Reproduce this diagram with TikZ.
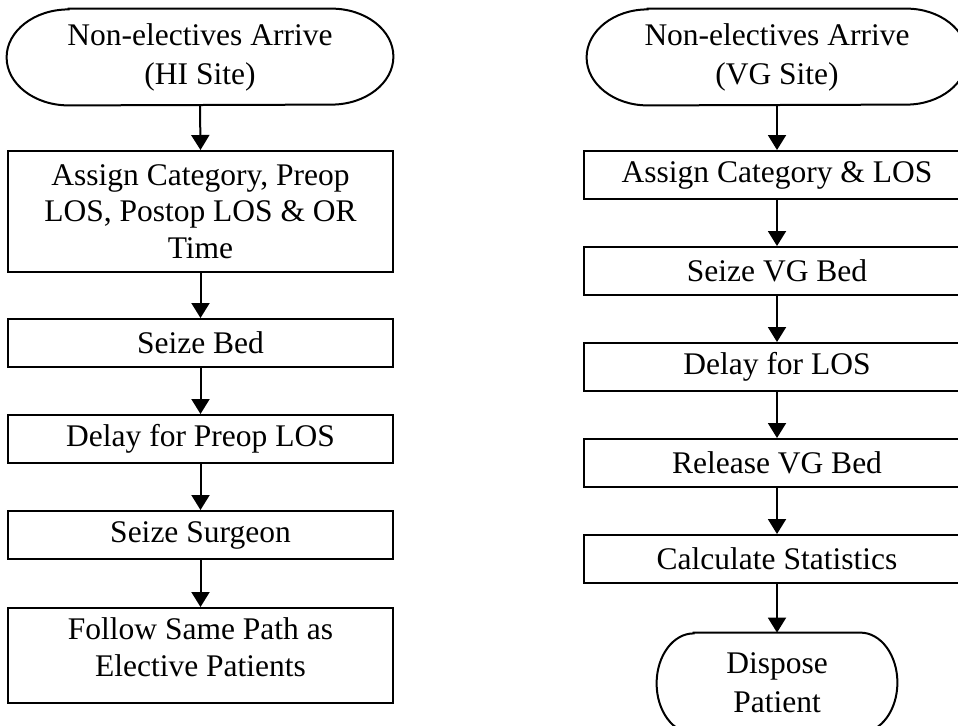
\documentclass[tikz,border=0pt]{standalone}
\usepackage{fontspec}
\setmainfont{Liberation Serif}
\usetikzlibrary{arrows.meta}
% outline of a terminator round a node: node, x radius, y radius
\newcommand{\termshape}[3]{\draw[line width=1pt] ([xshift=#2]#1.north west) -- ([xshift=-#2]#1.north east)
  arc[start angle=90,end angle=-90,x radius=#2,y radius=#3] -- ([xshift=#2]#1.south west)
  arc[start angle=270,end angle=90,x radius=#2,y radius=#3] -- cycle;}

\begin{document}
\begin{tikzpicture}[x=0.5pt,y=-0.5pt,font=\fontsize{15.75}{18.25}\selectfont,
  stepbox/.style={draw,rectangle,line width=1pt,minimum width=192.5pt,minimum height=24pt,inner sep=0pt,align=center},
  termbox/.style={rectangle,inner sep=0pt,align=center,font=\fontsize{15.75}{19.5}\selectfont},
  flow/.style={line width=1pt,-{Triangle[length=7.5pt,width=9pt]}}]
\clip (0,0) rectangle (958,725);

% HI site
\node[termbox,minimum width=193pt,minimum height=48pt] (hiArrive) at (200,57) {Non-electives Arrive\\(HI Site)};
\termshape{hiArrive}{31pt}{24pt}
\node[stepbox,minimum height=60.5pt] (hiAssign) at (200.5,211.5) {Assign Category, Preop\\LOS, Postop LOS \& OR\\Time};
\node[stepbox] (hiBed) at (200.5,343) {Seize Bed};
\node[stepbox] (hiDelay) at (200.5,439) {Delay for Preop LOS};
\node[stepbox] (hiSurgeon) at (200.5,535) {Seize Surgeon};
\node[stepbox,minimum height=47.5pt] (hiFollow) at (200.5,655.5) {Follow Same Path as\\Elective Patients\\[-10pt]\mbox{}};

\path[flow,draw] (hiArrive.south) -- (hiAssign.north);
\path[flow,draw] (hiAssign.south) -- (hiBed.north);
\path[flow,draw] (hiBed.south) -- (hiDelay.north);
\path[flow,draw] (hiDelay.south) -- (hiSurgeon.north);
\path[flow,draw] (hiSurgeon.south) -- (hiFollow.north);

% VG site
\node[termbox,minimum width=190pt,minimum height=48pt] (vgArrive) at (777,57) {Non-electives Arrive\\(VG Site)};
\termshape{vgArrive}{30.5pt}{24pt}
\node[stepbox,minimum width=193pt] (vgAssign) at (777,175) {Assign Category \& LOS};
\node[stepbox,minimum width=193pt] (vgBed) at (777,271) {Seize VG Bed};
\node[stepbox,minimum width=193pt] (vgDelay) at (777,367) {Delay for LOS};
\node[stepbox,minimum width=193pt] (vgRelease) at (777,463) {Release VG Bed};
\node[stepbox,minimum width=193pt] (vgStats) at (777,559) {Calculate Statistics};
\node[termbox,minimum width=120pt,minimum height=50pt] (vgDispose) at (777,683) {Dispose\\Patient};
\termshape{vgDispose}{18.5pt}{25pt}

\path[flow,draw] (vgArrive.south) -- (vgAssign.north);
\path[flow,draw] (vgAssign.south) -- (vgBed.north);
\path[flow,draw] (vgBed.south) -- (vgDelay.north);
\path[flow,draw] (vgDelay.south) -- (vgRelease.north);
\path[flow,draw] (vgRelease.south) -- (vgStats.north);
\path[flow,draw] (vgStats.south) -- (vgDispose.north);
\end{tikzpicture}
\end{document}
